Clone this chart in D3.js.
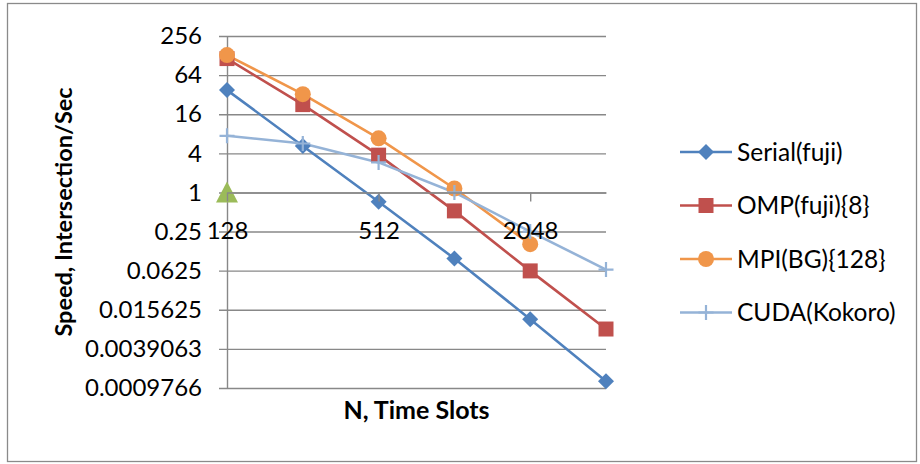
<!DOCTYPE html>
<html>
<head>
<meta charset="utf-8">
<script src="https://cdn.jsdelivr.net/npm/d3@7"></script>
<style>
  html, body { margin: 0; padding: 0; background: #fff; }
  svg { display: block; font-family: Lato, "Open Sans", sans-serif; }
</style>
</head>
<body>
<svg id="chart" width="920" height="464"></svg>
<script>
// Problem sizes (N, time slots) along the category axis
const categories = ["128", "256", "512", "1024", "2048", "4096"];
// Only every other category carries a label
const xTickLabels = ["128", "512", "2048"];

// Speed (intersections per second) for each implementation
const serialFuji = [37.6, 5.2, 0.72, 0.096, 0.0112, 0.00124];
const ompFuji8 = [115, 22.5, 3.75, 0.52, 0.062, 0.0079];
const mpiBG128 = [130, 32.6, 6.8, 1.15, 0.16, null];
const cudaKokoro = [7.45, 5.67, 2.9, 1.0, 0.25, 0.065];
const unitPoint = [1, null, null, null, null, null];

const seriesNames = ["Serial(fuji)", "OMP(fuji){8}", "MPI(BG){128}", "CUDA(Kokoro)"];

// Log2 value axis
const yTickValues = [256, 64, 16, 4, 1, 0.25, 0.0625, 0.015625, 0.00390625, 0.0009765625];
const yTickLabels = ["256", "64", "16", "4", "1", "0.25", "0.0625", "0.015625", "0.0039063", "0.0009766"];

const series = [
  { name: seriesNames[0], values: serialFuji, color: "#4F81BD", marker: "diamond", legend: true },
  { name: seriesNames[1], values: ompFuji8, color: "#C0504D", marker: "square", legend: true },
  { name: seriesNames[2], values: mpiBG128, color: "#F0964A", marker: "circle", legend: true },
  { name: seriesNames[3], values: cudaKokoro, color: "#95B3D7", marker: "plus", legend: true },
  { name: "unit", values: unitPoint, color: "#9BBB59", marker: "triangle", legend: false }
];

const svg = d3.select("#chart");
const plot = { left: 227, right: 606, top: 36, bottom: 388 };
const gridColor = "#888888";

const x = d3.scalePoint().domain(categories).range([plot.left, plot.right]);
const y = d3.scaleLog().base(2)
  .domain([0.0009765625, 256])
  .range([plot.bottom, plot.top]);

// Outer chart frame
svg.append("rect")
  .attr("x", 7.5).attr("y", 3.5)
  .attr("width", 909).attr("height", 458)
  .attr("fill", "none").attr("stroke", "#8a8a8a").attr("stroke-width", 1.3);

// Horizontal gridlines (including the small outside tick on the left)
const grid = svg.append("g")
  .attr("transform", `translate(${plot.left - 8},0)`)
  .call(d3.axisLeft(y).tickValues(yTickValues).tickFormat("")
    .tickSize(-(plot.right - plot.left + 8)).tickSizeOuter(0));
grid.select(".domain").remove();
grid.selectAll(".tick line").attr("stroke", gridColor).attr("stroke-width", 1.4);

// Value axis line and labels
const yAxis = svg.append("g")
  .attr("transform", `translate(${plot.left},0)`)
  .call(d3.axisLeft(y).tickValues(yTickValues)
    .tickFormat((d, i) => yTickLabels[i])
    .tickSize(0).tickSizeOuter(0).tickPadding(25));
yAxis.select(".domain").attr("stroke", gridColor).attr("stroke-width", 1.4);
yAxis.selectAll(".tick text")
  .attr("font-size", 24).attr("fill", "#000")
  .attr("font-family", "Lato, sans-serif");

// Category axis crosses the value axis at 1
const xAxis = svg.append("g")
  .attr("transform", `translate(0,${y(1)})`)
  .call(d3.axisBottom(x).tickValues(xTickLabels)
    .tickSize(9).tickSizeOuter(0).tickPadding(21));
xAxis.select(".domain").attr("stroke", gridColor).attr("stroke-width", 1.4);
xAxis.selectAll(".tick line").attr("stroke", gridColor).attr("stroke-width", 1.4);

// Marker shapes
function markerPath(type) {
  switch (type) {
    case "diamond": return "M0,-8L8,0L0,8L-8,0Z";
    case "square": return "M-7.5,-7.5H7.5V7.5H-7.5Z";
    case "triangle": return "M0,-11L11,10H-11Z";
    case "plus": return "M-7.5,0H7.5M0,-7.5V7.5";
    default: return null;
  }
}
function drawMarker(g, s, cx, cy) {
  if (s.marker === "circle") {
    g.append("circle").attr("cx", cx).attr("cy", cy).attr("r", 8).attr("fill", s.color);
  } else if (s.marker === "plus") {
    g.append("path").attr("d", markerPath("plus"))
      .attr("transform", `translate(${cx},${cy})`)
      .attr("stroke", s.color).attr("stroke-width", 2.2).attr("fill", "none");
  } else {
    g.append("path").attr("d", markerPath(s.marker))
      .attr("transform", `translate(${cx},${cy})`)
      .attr("fill", s.color);
  }
}

// Series lines and markers
const line = d3.line()
  .defined(d => d.v != null)
  .x(d => x(d.c))
  .y(d => y(d.v));

const seriesLayer = svg.append("g");
series.forEach(s => {
  const pts = categories.map((c, i) => ({ c, v: s.values[i] }));
  seriesLayer.append("path")
    .datum(pts)
    .attr("d", line)
    .attr("fill", "none")
    .attr("stroke", s.color)
    .attr("stroke-width", 2.6)
    .attr("stroke-linejoin", "round");
});
series.forEach(s => {
  const g = seriesLayer.append("g");
  categories.forEach((c, i) => {
    if (s.values[i] != null) drawMarker(g, s, x(c), y(s.values[i]));
  });
});

// Category labels sit above the data
xAxis.raise();
xAxis.selectAll(".tick text")
  .attr("font-size", 24).attr("fill", "#000")
  .attr("font-family", "Lato, sans-serif");

// Axis titles
svg.append("text")
  .attr("transform", `translate(72,${(plot.top + plot.bottom) / 2}) rotate(-90)`)
  .attr("text-anchor", "middle")
  .attr("font-size", 23.5).attr("font-weight", "bold")
  .text("Speed, Intersection/Sec");

svg.append("text")
  .attr("x", (plot.left + plot.right) / 2)
  .attr("y", 419)
  .attr("text-anchor", "middle")
  .attr("font-size", 25).attr("font-weight", "bold")
  .text("N, Time Slots");

// Legend
const legendItems = series.filter(s => s.legend);
const legend = svg.append("g");
legendItems.forEach((s, i) => {
  const ly = 152 + i * 53.5;
  const g = legend.append("g");
  g.append("line")
    .attr("x1", 680).attr("x2", 732).attr("y1", ly).attr("y2", ly)
    .attr("stroke", s.color).attr("stroke-width", 2.6);
  drawMarker(g, s, 706, ly);
  g.append("text")
    .attr("x", 737).attr("y", ly)
    .attr("dy", "0.35em")
    .attr("font-size", 24.5)
    .text(s.name);
});
</script>
</body>
</html>
